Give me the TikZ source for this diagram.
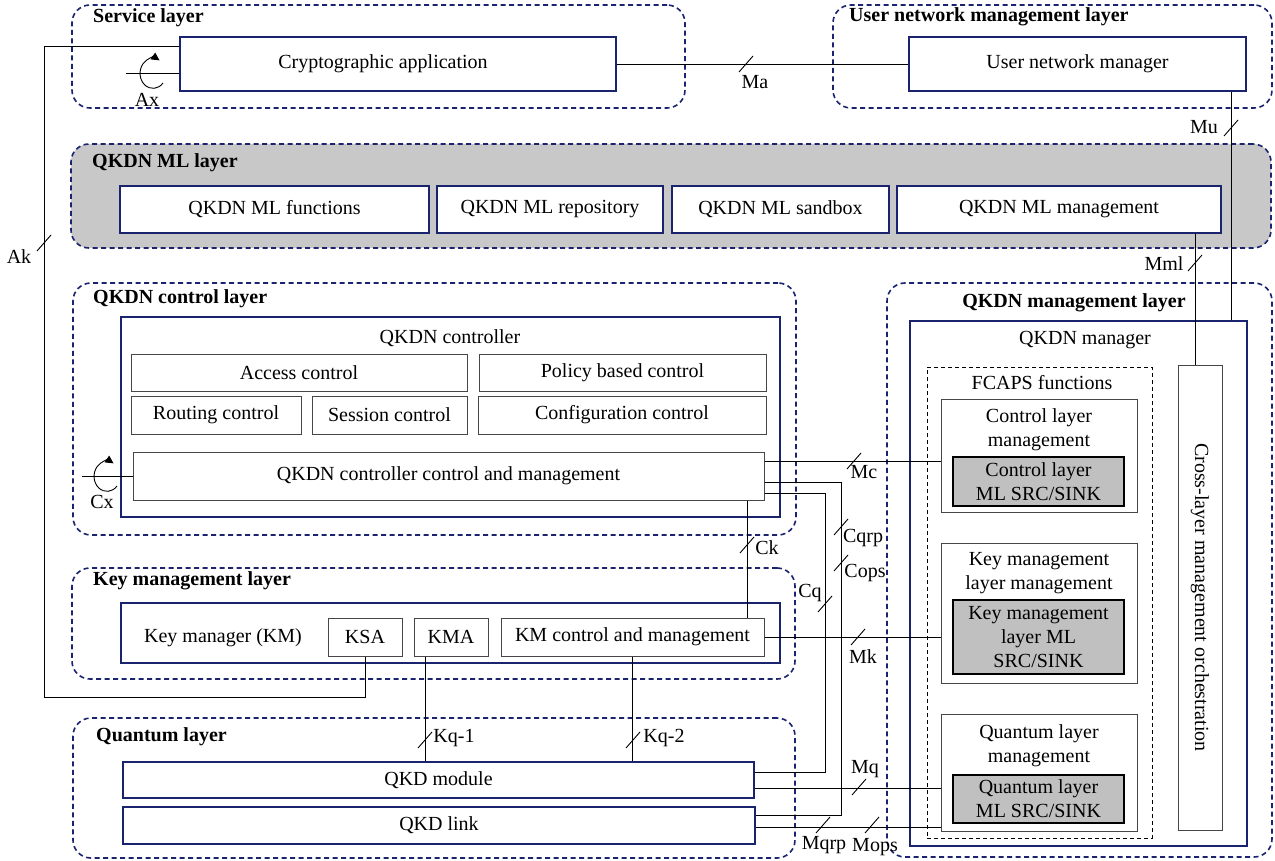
\documentclass[tikz,border=0pt]{standalone}
\usepackage{fontspec}
\setmainfont{Liberation Serif}
\usepackage{xcolor}
\usepackage{tikz}
\usetikzlibrary{arrows.meta}
\usetikzlibrary{positioning}

\definecolor{blu}{RGB}{25,35,110}
\definecolor{grigio}{RGB}{200,200,200}
\definecolor{grigioml}{RGB}{192,192,192}
\definecolor{bordo}{RGB}{70,70,70}

% trattino obliquo delle interfacce
\newcommand{\itf}[1]{\draw[line width=0.9pt] (#1) ++(-7,8) -- ++(14,-16);}

\begin{document}
\begin{tikzpicture}[x=1pt, y=-1pt,
    font=\fontsize{20}{24}\selectfont,
    wh/.style 2 args={minimum width=#1pt, minimum height=#2pt},
    livello/.style={draw=blu, line width=1.6pt, dash pattern=on 5pt off 3.5pt, rounded corners=18pt, inner sep=0pt},
    blocco/.style={draw=blu, line width=1.6pt, fill=white, inner sep=0pt, align=center},
    sotto/.style={draw=bordo, line width=1pt, fill=white, inner sep=0pt, align=center},
    mlbox/.style={draw=black, line width=1.2pt, fill=grigioml, inner sep=0pt, align=center},
    titolo/.style={font=\fontsize{20}{24}\selectfont\bfseries, anchor=west, inner sep=0pt},
    etichetta/.style={inner sep=0pt, align=center},
    linea/.style={line width=0.9pt}]
        \useasboundingbox (0,0) rectangle (1275,861);

        % Livelli
        \node[livello, wh={613}{103}] (svc) at (378.5,56.5) {};
        \node[livello, wh={439}{103}] (unmL) at (1052.5,56.5) {};
        \node[livello, fill=grigio, wh={1200}{104}] (mlL) at (671,196) {};
        \node[livello, wh={723}{252}] (ctlL) at (434.5,409) {};
        \node[livello, wh={723}{111}] (kmL) at (433.5,623.5) {};
        \node[livello, wh={722}{140}] (qL) at (434,788) {};
        \node[livello, wh={385}{574}] (mgmtL) at (1079.5,570) {};

        \node[titolo] (svcT) at (93,18) {Service layer};
        \node[titolo] (unmT) at (849,17) {User network management layer};
        \node[titolo] (mlT) at (92,163) {QKDN ML layer};
        \node[titolo] (ctlT) at (93,299) {QKDN control layer};
        \node[titolo] (kmLT) at (93,581) {Key management layer};
        \node[titolo] (qT) at (96,737) {Quantum layer};
        \node[titolo, anchor=center] (mgmtT) at (1074,303) {QKDN management layer};

        % Servizio e utente
        \node[blocco, wh={436}{54}] (crypto) at (398,64) {Cryptographic application\hspace*{30pt}};
        \node[blocco, wh={337}{54}] (unm) at (1077.5,64) {User network manager};

        % ML
        \node[blocco, wh={309}{47}] (mlf) at (274.5,209.5) {QKDN ML functions};
        \node[blocco, wh={226}{47}] (mlr) at (550,209.5) {QKDN ML repository};
        \node[blocco, wh={217}{47}] (mls) at (780.5,209.5) {QKDN ML sandbox};
        \node[blocco, wh={324}{47}] (mlm) at (1059,209.5) {QKDN ML management};

        % Controllo
        \node[blocco, wh={659}{200}] (ctrl) at (450.5,417) {};
        \node[etichetta] (ctrlT) at (450,338) {QKDN controller};
        \node[sotto, wh={336}{37}] (acc) at (299,372.5) {Access control};
        \node[sotto, wh={287}{37}] (pol) at (622.5,372.5) {Policy based control};
        \node[sotto, wh={170}{38}] (rout) at (216,415) {Routing control};
        \node[sotto, wh={155}{38}] (sess) at (389.5,415) {Session control};
        \node[sotto, wh={288}{38}] (conf) at (622,415) {Configuration control};
        \node[sotto, wh={631}{48}] (cm) at (448.5,476) {QKDN controller control and management};

        % Gestione chiavi
        \node[blocco, wh={659}{60}] (km) at (450.5,633) {};
        \node[etichetta] (kmT) at (223,638) {Key manager (KM)};
        \node[sotto, wh={74}{38}] (ksa) at (365,637) {KSA};
        \node[sotto, wh={74}{38}] (kma) at (451,637) {KMA};
        \node[sotto, wh={263}{38}] (kmcm) at (632.5,637) {KM control and management};

        % Quantistico
        \node[blocco, wh={631}{36}] (qkdm) at (438.5,780) {QKD module};
        \node[blocco, wh={632}{37}] (qkdl) at (439,825.5) {QKD link};

        % Gestione
        \node[blocco, wh={337}{525}] (mgr) at (1078.5,583.5) {};
        \node[etichetta] (mgrT) at (1085,340) {QKDN manager};
        \node[draw, line width=0.8pt, dash pattern=on 4pt off 3pt, wh={225}{471}] (fcaps) at (1039.5,602.5) {};
        \node[etichetta] (fcT) at (1042,383) {FCAPS functions};
        \node[sotto, wh={196}{113}] (clm) at (1039,455.5) {};
        \node[etichetta] (clmT) at (1039,430) {Control layer\\management};
        \node[mlbox, wh={171}{49}] (clml) at (1038.5,481.5) {Control layer\\ML SRC/SINK};
        \node[sotto, wh={196}{140}] (kmm) at (1039,613) {};
        \node[etichetta] (kmmT) at (1039,573) {Key management\\layer management};
        \node[mlbox, wh={171}{74}] (kmml) at (1038.5,637) {Key management\\layer ML\\SRC/SINK};
        \node[sotto, wh={196}{117}] (qlm) at (1039,772.5) {};
        \node[etichetta] (qlmT) at (1039,746) {Quantum layer\\management};
        \node[mlbox, wh={171}{48}] (qlml) at (1038.5,799) {Quantum layer\\ML SRC/SINK};
        \node[sotto, wh={44}{465}] (xlo) at (1200,597.5) {};
        \node[etichetta, rotate=-90] (xloT) at (xlo.center) {Cross-layer management orchestration};

        % Interfacce
        \draw[linea] (crypto.east) -- (unm.west);
        \itf{746,64}
        \node[etichetta] (maL) at (755,82) {Ma};

        \coordinate (muA) at ([xshift=-15pt]unm.south east);
        \draw[linea] (muA) -- (muA |- mgr.north);
        \itf{1231,128}
        \node[etichetta] (muL) at (1204,127) {Mu};

        \coordinate (mmlA) at ([xshift=-5pt]xlo.north);
        \draw[linea] (mmlA) -- (mmlA |- mlm.south);
        \itf{1195,263}
        \node[etichetta] (mmlL) at (1164,264) {Mml};

        \coordinate (akA) at ([yshift=-10pt]crypto.north west);
        \coordinate (akB) at (44,697);
        \draw[linea] (akA) -| (akB) -| (ksa.south);
        \itf{44,243}
        \node[etichetta] (akL) at (19,257) {Ak};

        \draw[linea] ([yshift=-9pt]crypto.west) -- ++(-53,0);
        \draw[linea, -{Triangle[length=8pt,width=8pt]}] (163,83) arc[start angle=-40, end angle=-300, x radius=13pt, y radius=15pt];
        \node[etichetta] (axL) at (147,100) {Ax};

        \draw[linea] (cm.west) -- ++(-51,0);
        \draw[linea, -{Triangle[length=8pt,width=8pt]}] (117,486) arc[start angle=-40, end angle=-300, x radius=13pt, y radius=15pt];
        \node[etichetta] (cxL) at (102,502) {Cx};

        \coordinate (mcA) at ([yshift=15pt]cm.east);
        \draw[linea] (mcA) -- (mcA -| clm.west);
        \itf{854,461}
        \node[etichetta] (mcL) at (864,472) {Mc};

        \coordinate (cqrpA) at ([yshift=-6pt]cm.east);
        \coordinate (cqrpB) at ([yshift=10.5pt]qkdl.east);
        \coordinate (cqrpC) at (841,815);
        \draw[linea] (cqrpA) -| (cqrpC) -- (cqrpB);
        \itf{841,527}
        \node[etichetta] (cqrpL) at (863,538) {Cqrp};
        \itf{841,563}
        \node[etichetta] (copsL) at (865,573) {Cops};

        \coordinate (cqA) at ([yshift=-17pt]cm.east);
        \coordinate (cqB) at ([yshift=8pt]qkdm.east);
        \coordinate (cqC) at (825,772);
        \draw[linea] (cqA) -| (cqC) -- (cqB);
        \itf{825,604}
        \node[etichetta] (cqL) at (810,593) {Cq};

        \coordinate (ckA) at ([xshift=-17pt]cm.south east);
        \draw[linea] (ckA) -- (ckA |- kmcm.north);
        \itf{747,545}
        \node[etichetta] (ckL) at (767,548) {Ck};

        \draw[linea] (kmcm.east) -- (kmcm.east -| kmm.west);
        \itf{858,637}
        \node[etichetta] (mkL) at (863,657) {Mk};

        \coordinate (kq1A) at ([xshift=-26pt]kma.south);
        \draw[linea] (kq1A) -- (kq1A |- qkdm.north);
        \itf{425,740}
        \node[etichetta] (kq1L) at (454,738) {Kq-1};
        \draw[linea] (kmcm.south) -- (kmcm.south |- qkdm.north);
        \itf{633,740}
        \node[etichetta] (kq2L) at (664,738) {Kq-2};

        \coordinate (mqA) at ([yshift=-8pt]qkdm.east);
        \draw[linea] (mqA) -- (mqA -| qlm.west);
        \itf{859,787}
        \node[etichetta] (mqL) at (865,769) {Mq};

        \coordinate (mopsA) at ([yshift=-1.5pt]qkdl.east);
        \draw[linea] (mopsA) -- (mopsA -| qlm.west);
        \itf{823,825}
        \node[etichetta] (mqrpL) at (824,845) {Mqrp};
        \itf{872,825}
        \node[etichetta] (mopsL) at (875,847) {Mops};
    \end{tikzpicture}
\end{document}
